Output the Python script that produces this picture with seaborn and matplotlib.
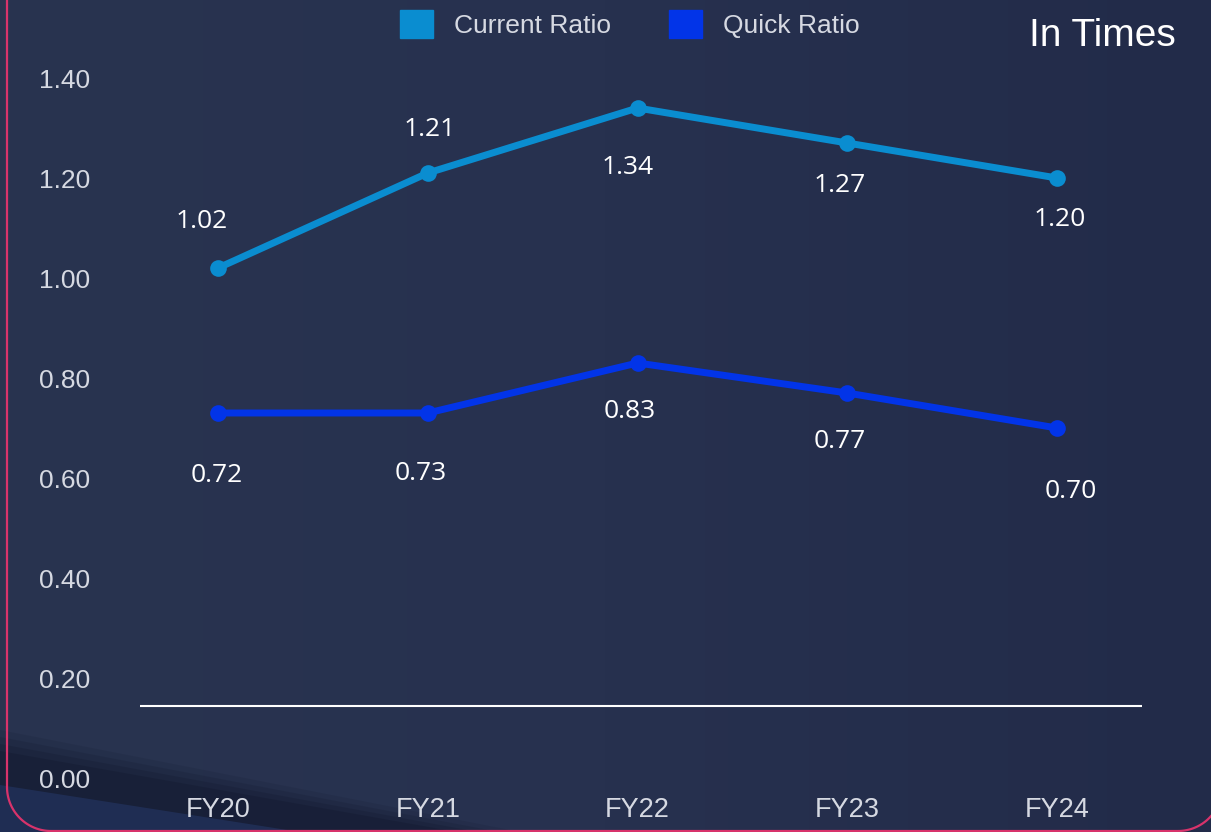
"""
Current ratio vs quick ratio, FY20-FY24
"""

import numpy as np
import pandas as pd
import matplotlib.pyplot as plt
import seaborn as sns
from matplotlib.patches import Patch, Polygon

# %% data

years = ['FY20', 'FY21', 'FY22', 'FY23', 'FY24']
current_ratio = [1.02, 1.21, 1.34, 1.27, 1.20]
quick_ratio = [0.73, 0.73, 0.83, 0.77, 0.70]
quick_labels = ['0.72', '0.73', '0.83', '0.77', '0.70']
y_ticks = [0.0, 0.2, 0.4, 0.6, 0.8, 1.0, 1.2, 1.4]
baseline = 0.144

df = pd.DataFrame({'year': years * 2,
                   'ratio': current_ratio + quick_ratio,
                   'series': ['Current Ratio'] * 5 + ['Quick Ratio'] * 5})

# label offsets in pixels (dx, dy)
cur_off = [(-16, 47), (2, 43), (-10, -59), (-8, -42), (3, -42)]
quick_off = [(-1, -62), (-7, -61), (-8, -49), (-8, -49), (14, -64)]

palette = {'Current Ratio': '#0a8dd0', 'Quick Ratio': '#0234e8'}

# %% figure
sns.set_theme(style='white')
plt.rcParams['font.family'] = ['Liberation Sans', 'DejaVu Sans']

W, H = 1211, 832
fig = plt.figure(figsize=(W / 100, H / 100), dpi=100)

# background panel (pixel coordinates)
bg = fig.add_axes([0, 0, 1, 1], zorder=0)
grad = np.linspace(0, 1, 256)[None, :]
cmap = sns.blend_palette(['#29344f', '#27314f', '#222b49'], as_cmap=True)
bg.imshow(grad, cmap=cmap, extent=[0, W, H, 0], aspect='auto')
for i, a in enumerate([0.10, 0.13, 0.16, 0.20]):
    off = i * 7
    bg.add_patch(Polygon([(0, 730 + off), (0, H), (520 - off * 3, H)],
                         closed=True, color='#0a0f20', alpha=a, lw=0))
bg.add_patch(Polygon([(0, 785), (0, H), (300, H)], closed=True,
                     color='#22335f', alpha=0.7, lw=0))

# pink frame: left edge, rounded bottom corners
r, left, right, bottom = 44, 7, 1222, 831
t = np.linspace(0, np.pi / 2, 40)
xs = np.concatenate([[left], left + r - r * np.cos(t), right - r + r * np.sin(t), [right]])
ys = np.concatenate([[-10], bottom - r + r * np.sin(t), bottom - r + r * np.cos(t), [-10]])
bg.plot(xs, ys, color='#d8336b', lw=1.6)
bg.set_xlim(0, W)
bg.set_ylim(H, 0)
bg.axis('off')

# main axes
ax = fig.add_axes([140 / W, 54 / H, 1002 / W, 700 / H], zorder=1)
ax.set_facecolor('none')

sns.lineplot(data=df, x='year', y='ratio', hue='series', palette=palette,
             marker='o', markersize=12, markeredgewidth=0, linewidth=5,
             legend=False, ax=ax)

ax.axhline(baseline, color='white', lw=1.5)

lab_kw = dict(textcoords='offset pixels', ha='center', va='center',
              color='white', fontsize=19, family=['Open Sans', 'DejaVu Sans'])
for i, (v, off) in enumerate(zip(current_ratio, cur_off)):
    ax.annotate(f'{v:.2f}', (i, v), xytext=off, **lab_kw)
for i, (v, lab, off) in enumerate(zip(quick_ratio, quick_labels, quick_off)):
    ax.annotate(lab, (i, v), xytext=off, **lab_kw)

ax.set_xlim(-0.372, 4.405)
ax.set_ylim(0, 1.4)
ax.set_yticks(y_ticks)
ax.set_yticklabels([f'{t:.2f}' for t in y_ticks])
ax.tick_params(axis='y', length=0, pad=36, labelsize=19, labelcolor='#d6d9e2')
ax.tick_params(axis='x', length=0, pad=14, labelsize=19.5, labelcolor='#d6d9e2')
ax.set_xlabel('')
ax.set_ylabel('')
for s in ax.spines.values():
    s.set_visible(False)

# legend and unit note
handles = [Patch(color=palette[k], label=k) for k in palette]
leg = fig.legend(handles=handles, loc='center', bbox_to_anchor=(630 / W, 1 - 24 / H),
                 ncol=2, frameon=False, fontsize=19, handlelength=1.25,
                 handleheight=1.25, handletextpad=0.8, columnspacing=2.2)
for t in leg.get_texts():
    t.set_color('#d6d9e2')

fig.text(1176 / W, 1 - 36 / H, 'In Times', ha='right', va='center',
         color='white', fontsize=28)

fig.savefig('out.png', dpi=100)
